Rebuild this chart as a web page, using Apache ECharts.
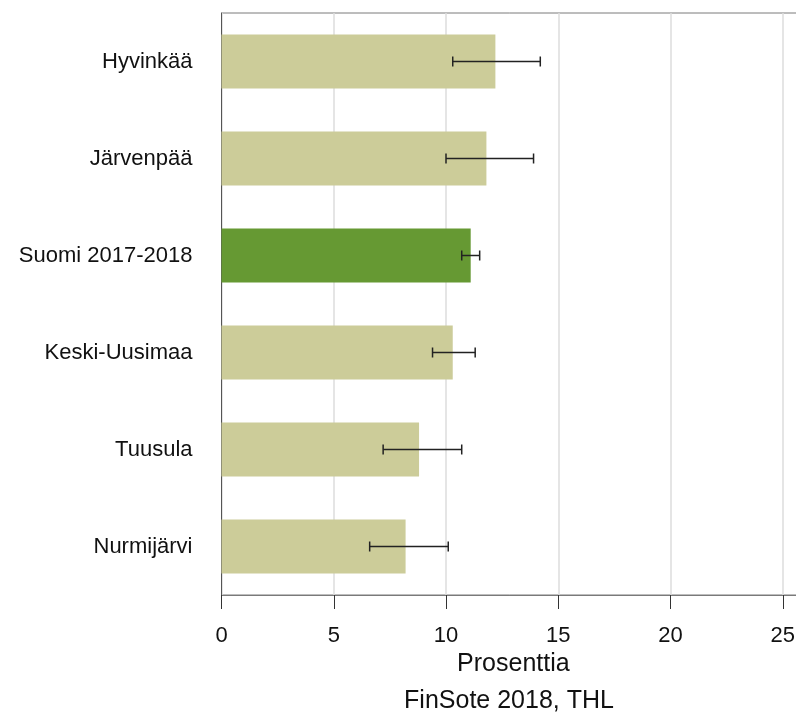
<!DOCTYPE html>
<html>
<head>
<meta charset="utf-8">
<script src="https://cdn.jsdelivr.net/npm/echarts@6/dist/echarts.min.js"></script>
<style>
html,body{margin:0;padding:0;background:#fff;}
#chart{width:796px;height:718px;}
</style>
</head>
<body>
<div id="chart"></div>
<script>
var categories = ['Hyvinkää', 'Järvenpää', 'Suomi 2017-2018', 'Keski-Uusimaa', 'Tuusula', 'Nurmijärvi'];
var values = [12.2, 11.8, 11.1, 10.3, 8.8, 8.2];
var lower = [10.3, 10.0, 10.7, 9.4, 7.2, 6.6];
var upper = [14.2, 13.9, 11.5, 11.3, 10.7, 10.1];
var highlight = 'Suomi 2017-2018';
var xTitle = 'Prosenttia';
var sourceText = 'FinSote 2018, THL';

var FONT = '"Liberation Sans", Arial, sans-serif';

var barData = values.map(function (v, i) {
  return {
    value: v,
    itemStyle: { color: categories[i] === highlight ? '#669933' : '#cccc99' }
  };
});
var errData = categories.map(function (c, i) { return [i, lower[i], upper[i]]; });

var chart = echarts.init(document.getElementById('chart'), null, { renderer: 'canvas' });
chart.setOption({
  animation: false,
  backgroundColor: '#ffffff',
  grid: {
    left: 221.5, top: 13, width: 583.7, height: 582,
    outerBoundsMode: 'none', containLabel: false,
    show: true, borderColor: '#7a7a7a', borderWidth: 1, backgroundColor: 'transparent'
  },
  xAxis: {
    type: 'value', min: 0, max: 26, interval: 5,
    name: xTitle, nameLocation: 'middle', nameGap: 56,
    nameTextStyle: { fontFamily: FONT, fontSize: 25, color: '#111' },
    axisLine: { show: true, lineStyle: { color: '#7a7a7a', width: 1 } },
    axisTick: { show: true, length: 14, lineStyle: { color: '#333', width: 1 } },
    axisLabel: { margin: 30, fontFamily: FONT, fontSize: 22, color: '#111', showMaxLabel: false },
    splitLine: { show: true, lineStyle: { color: '#dcdcdc', width: 1.5 } }
  },
  yAxis: {
    type: 'category', data: categories, inverse: true,
    axisLine: { show: true, lineStyle: { color: '#555', width: 1 } },
    axisTick: { show: false },
    axisLabel: { margin: 29, fontFamily: FONT, fontSize: 22, color: '#111' },
    splitLine: { show: false }
  },
  graphic: [{
    type: 'text', x: 509, y: 701, silent: true,
    style: { text: sourceText, font: '25px ' + FONT, fill: '#111', textAlign: 'center', textVerticalAlign: 'middle' }
  }],
  series: [{
    type: 'bar', data: barData, barWidth: 54, z: 2
  }, {
    type: 'custom', z: 3,
    data: errData,
    renderItem: function (params, api) {
      var idx = api.value(0);
      var p1 = api.coord([api.value(1), idx]);
      var p2 = api.coord([api.value(2), idx]);
      var h = 5;
      var st = { stroke: '#222', lineWidth: 1.5 };
      return {
        type: 'group',
        children: [
          { type: 'line', shape: { x1: p1[0], y1: p1[1], x2: p2[0], y2: p2[1] }, style: st },
          { type: 'line', shape: { x1: p1[0], y1: p1[1] - h, x2: p1[0], y2: p1[1] + h }, style: st },
          { type: 'line', shape: { x1: p2[0], y1: p2[1] - h, x2: p2[0], y2: p2[1] + h }, style: st }
        ]
      };
    }
  }]
});
</script>
</body>
</html>
